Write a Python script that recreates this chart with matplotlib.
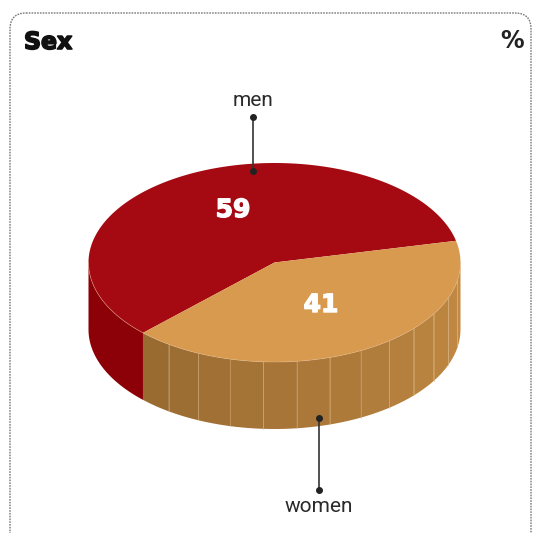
import numpy as np
import matplotlib.pyplot as plt
import matplotlib.patheffects as pe
from matplotlib.patches import Polygon, FancyBboxPatch
from matplotlib.colors import to_rgb

# data
labels = ['men', 'women']
shares = [59, 41]
title = 'Sex'
unit = '%'

top_colors = ['#a50a12', '#d79a4e']
side_dark = ['#8c0007', '#9a6b31']
side_light = ['#8c0007', '#c28a43']

# layout (pixel coords, y down)
cx, cy = 274.5, 262.5
rx, ry = 186, 99.5
depth = 67
start = 12.6
value_pos = [(233, 210), (321, 305)]
leader = [((253, 117), (253, 171), (253, 101)),
          ((319, 490), (319, 418), (319, 506))]


def pt(deg, dy=0.0):
    t = np.radians(deg)
    return cx + rx * np.cos(t), cy - ry * np.sin(t) + dy


def arc(a0, a1, dy=0.0, n=None):
    n = n or max(int(abs(a1 - a0)), 2)
    return [pt(a, dy) for a in np.linspace(a0, a1, n)]


fig = plt.figure(figsize=(5.33, 5.33), dpi=100)
ax = fig.add_axes([0, 0, 1, 1])
ax.set_xlim(0, 533)
ax.set_ylim(533, 0)
ax.axis('off')

# frame
ax.add_patch(FancyBboxPatch((10, 13), 521, 540, boxstyle='round,pad=0,rounding_size=16',
                            fill=False, ec='#7a7a7a', lw=1.0, ls=(0, (1.2, 0.8))))

heavy = [pe.withStroke(linewidth=1.2, foreground='#111111')]
ax.text(24, 42, title, fontsize=17, fontweight='bold', family='DejaVu Sans', va='center',
        color='#111111', path_effects=heavy)
ax.text(512, 41, unit, fontsize=17, fontweight='bold', family='DejaVu Sans', ha='center',
        va='center', color='#222222')

# slice angles
bounds = []
a = start
for s in shares:
    b = a + 360 * s / sum(shares)
    bounds.append((a, b))
    a = b

# sides (front half only: 180..360)
for i, (a0, a1) in enumerate(bounds):
    for off in (0, 360):
        lo, hi = max(a0, 180 + off), min(a1, 360 + off)
        if hi <= lo:
            continue
        if i == 0:
            poly = arc(lo, hi) + arc(hi, lo, depth)
            ax.add_patch(Polygon(poly, closed=True, fc=side_dark[i], ec='none'))
        else:
            edges = np.linspace(lo, hi, 14)
            c0, c1 = np.array(to_rgb(side_dark[i])), np.array(to_rgb(side_light[i]))
            for k in range(len(edges) - 1):
                e0, e1 = edges[k], edges[k + 1]
                f = k / (len(edges) - 2)
                col = c0 + (c1 - c0) * f
                poly = arc(e0, e1, n=6) + arc(e1, e0, depth, n=6)
                ax.add_patch(Polygon(poly, closed=True, fc=col, ec='none'))
                if k > 0:
                    x0, y0 = pt(e0)
                    x1, y1 = pt(e0, depth)
                    ax.plot([x0, x1], [y0, y1], color='#d8b07a', lw=0.6, alpha=0.6)

# tops
for i, (a0, a1) in enumerate(bounds):
    poly = [(cx, cy)] + arc(a0, a1)
    ax.add_patch(Polygon(poly, closed=True, fc=top_colors[i], ec='none'))

# light rim along front edge
rim = arc(180, 360)
ax.plot([p[0] for p in rim], [p[1] for p in rim], color='#e6b88a', lw=0.5, alpha=0.6)

# values
for (x, y), v in zip(value_pos, shares):
    ax.text(x, y, str(v), fontsize=18, fontweight='bold', family='DejaVu Sans',
            color='white', ha='center', va='center',
            path_effects=[pe.withStroke(linewidth=1.0, foreground='white')])

# leaders
for (p0, p1, tp), lab in zip(leader, labels):
    ax.plot([p0[0], p1[0]], [p0[1], p1[1]], color='#333333', lw=1.2)
    ax.plot([p0[0], p1[0]], [p0[1], p1[1]], 'o', color='#222222', ms=4)
    ax.text(tp[0], tp[1], lab, fontsize=15, family='Roboto',
            color='#2a2a2a', ha='center', va='center')

fig.savefig('out.png', dpi=100)
